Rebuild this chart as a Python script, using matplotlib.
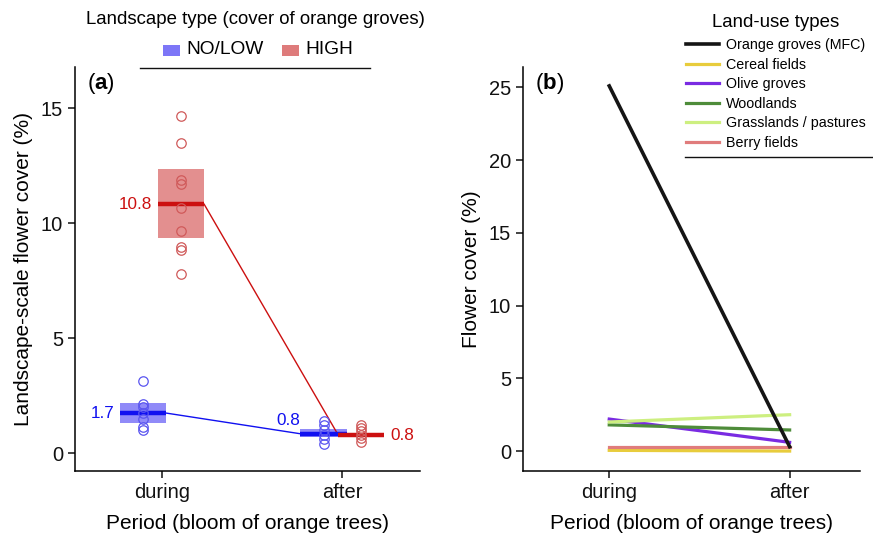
import matplotlib
matplotlib.use("Agg")
import matplotlib.pyplot as plt
from matplotlib.lines import Line2D
from matplotlib.patches import Rectangle
import numpy as np

plt.rcParams['font.family'] = ['Liberation Sans', 'DejaVu Sans']
plt.rcParams['mathtext.fontset'] = 'custom'
plt.rcParams['mathtext.bf'] = 'Liberation Sans:bold'
plt.rcParams['mathtext.rm'] = 'Liberation Sans'

# ---------------- data ----------------
periods = ["during", "after"]
groups = ["NO/LOW", "HIGH"]

lowpts_during = [3.15, 2.15, 2.0, 1.75, 1.5, 1.15, 1.0]
lowpts_after = [1.4, 1.2, 1.0, 0.8, 0.6, 0.4]
highpts_during = [14.65, 13.5, 11.9, 11.7, 10.65, 9.65, 8.95, 8.85, 7.8]
highpts_after = [1.2, 1.1, 0.95, 0.8, 0.65, 0.5]

low_mean = [1.74, 0.84]
low_lo = [1.30, 0.68]
low_hi = [2.20, 1.04]
high_mean = [10.83, 0.78]
high_lo = [9.35, 0.70]
high_hi = [12.35, 0.87]

landuse = ["Orange groves (MFC)", "Cereal fields", "Olive groves",
           "Woodlands", "Grasslands / pastures", "Berry fields"]
landuse_during = [25.1, 0.05, 2.2, 1.8, 2.0, 0.25]
landuse_after = [0.3, 0.0, 0.6, 1.45, 2.5, 0.25]
landuse_colors = ["#151515", "#E8CC3C", "#7A2BE2", "#4E8C3A", "#CDEF80", "#E07C7C"]

# ---------------- figure ----------------
W, H = 873, 537
fig = plt.figure(figsize=(W / 100, H / 100), dpi=100)

def fx(px):
    return px / W

def fy(py):
    return 1 - py / H

axa = fig.add_axes([fx(75), fy(471), fx(420) - fx(75), fy(67) - fy(471)])
axb = fig.add_axes([fx(523), fy(471), fx(860) - fx(523), fy(67) - fy(471)])

blue_dark = "#1010F0"
blue_box = "#7D76F7"
blue_pt = "#5A55F0"
red_dark = "#CC1010"
red_box = "#DE7B7B"
red_pt = "#D05A5A"

xpos = np.arange(len(periods))
off = 0.105
hw = 0.128

def draw_group(ax, xs, pts_list, means, los, his, dark, boxc, ptc):
    for x, pts, m, lo, hi in zip(xs, pts_list, means, los, his):
        ax.add_patch(plt.Rectangle((x - hw, lo), 2 * hw, hi - lo, facecolor=boxc,
                                   edgecolor='none', alpha=0.85, zorder=2))
        ax.plot([x - hw, x + hw], [m, m], color=dark, lw=3.2, solid_capstyle='butt', zorder=4)
        ax.plot([x] * len(pts), pts, 'o', mfc='none', mec=ptc, ms=6.8, mew=0.9, zorder=5)
    ax.plot([xs[0] + hw, xs[1] - hw], [means[0], means[1]], color=dark, lw=1.0, zorder=3)

xl = xpos - off
xh = xpos + off
draw_group(axa, xl, [lowpts_during, lowpts_after], low_mean, low_lo, low_hi, blue_dark, blue_box, blue_pt)
draw_group(axa, xh, [highpts_during, highpts_after], high_mean, high_lo, high_hi, red_dark, red_box, red_pt)

# value labels
fs_lab = 12.3
axa.text(xl[0] - hw - 0.03, low_mean[0], f"{low_mean[0]:.1f}", color=blue_dark, ha='right', va='center', fontsize=fs_lab)
axa.text(xl[1] - hw, low_hi[1] + 0.05, f"{low_mean[1]:.1f}", color=blue_dark, ha='right', va='bottom', fontsize=fs_lab)
axa.text(xh[0] - hw - 0.03, high_mean[0], f"{high_mean[0]:.1f}", color=red_dark, ha='right', va='center', fontsize=fs_lab)
axa.text(xh[1] + hw + 0.03, high_mean[1], f"{high_mean[1]:.1f}", color=red_dark, ha='left', va='center', fontsize=fs_lab)

fs_tick = 14.5
fs_axlab = 15

axa.set_xlim(-0.483, 1.43)
axa.set_ylim(-0.78, 16.8)
axa.set_yticks([0, 5, 10, 15])
axa.set_xticks(xpos)
axa.set_xticklabels(periods)
axa.set_ylabel("Landscape-scale flower cover (%)", fontsize=fs_axlab, labelpad=6)
axa.set_xlabel("Period (bloom of orange trees)", fontsize=fs_axlab, labelpad=9)
axa.text(0.035, 0.99, r"($\mathbf{a}$)", transform=axa.transAxes, fontsize=16, va='top', ha='left')

# panel b
for name, d, a, c in zip(landuse, landuse_during, landuse_after, landuse_colors):
    axb.plot(xpos, [d, a], color=c, lw=2.6 if name.startswith("Orange") else 2.3,
             label=name, zorder=3 if name.startswith("Orange") else 2)

axb.set_xlim(-0.478, 1.39)
axb.set_ylim(-1.37, 26.4)
axb.set_yticks([0, 5, 10, 15, 20, 25])
axb.set_xticks(xpos)
axb.set_xticklabels(periods)
axb.set_ylabel("Flower cover (%)", fontsize=fs_axlab, labelpad=6)
axb.set_xlabel("Period (bloom of orange trees)", fontsize=fs_axlab, labelpad=9)
axb.text(0.035, 0.99, r"($\mathbf{b}$)", transform=axb.transAxes, fontsize=16, va='top', ha='left')

for ax in (axa, axb):
    for s in ("top", "right"):
        ax.spines[s].set_visible(False)
    for s in ("left", "bottom"):
        ax.spines[s].set_linewidth(1.1)
    ax.tick_params(labelsize=fs_tick, length=5, width=1.1, colors="#111111")

# legend a (manual layout)
fig.text(fx(255), fy(20), "Landscape type (cover of orange groves)", ha='center', va='center',
         fontsize=13.4)
for (px0, col, lab) in [(163, blue_box, groups[0]), (282, red_box, groups[1])]:
    fig.add_artist(Rectangle((fx(px0), fy(56)), fx(17), fy(45) - fy(56), transform=fig.transFigure,
                             facecolor=col, edgecolor='none'))
    fig.text(fx(px0 + 23), fy(50), lab, ha='left', va='center', fontsize=13.8)
fig.add_artist(Line2D([fx(140), fx(370)], [fy(68), fy(68)], color="#111111", lw=1.0))

# legend b
hb, lb = axb.get_legend_handles_labels()
leg_b = fig.legend(hb, lb, loc='upper left', bbox_to_anchor=(fx(676), fy(4)), frameon=False,
                   fontsize=10.3, title="Land-use types", title_fontsize=13.4,
                   handlelength=2.3, handletextpad=0.5, labelspacing=0.39, borderpad=0.2)
leg_b._legend_box.sep = 5
fig.add_artist(Line2D([fx(685), fx(873)], [fy(157), fy(157)], color="#111111", lw=1.0))

fig.savefig("out.png", dpi=100)
